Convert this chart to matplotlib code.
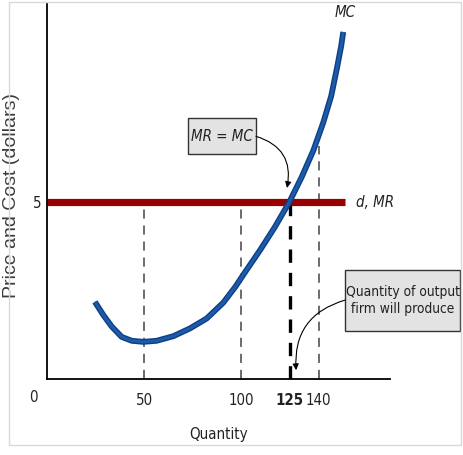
import matplotlib.pyplot as plt
from matplotlib.patches import Rectangle

# MC curve
mc_q = [24.7, 29.0, 33.4, 38.5, 43.7, 49.6, 56.5, 65.1, 73.7, 82.3, 90.9, 97.0, 102.1,
        109.8, 117.5, 124.9, 131.3, 137.3, 142.4, 146.5, 149.5, 151.6, 152.7]
mc_cost = [2.18, 1.81, 1.48, 1.19, 1.08, 1.05, 1.08, 1.21, 1.43, 1.71, 2.16, 2.60, 3.02,
           3.64, 4.30, 5.00, 5.71, 6.46, 7.25, 8.00, 8.80, 9.40, 9.81]

price = 5
mr_q = [0, 153.6]
guide_q = [50, 100, 140]
guide_top = [5, 5, 6.6]
chosen_q = 125
tick_q = [50, 100, 125, 140]
tick_labels = ['50', '100', '125', '140']

narrow = dict(family='DejaVu Sans', stretch='condensed')
fs = 10.8

fig = plt.figure(figsize=(4.64, 4.55), dpi=100)
fig.patches.append(Rectangle((9 / 464, 10 / 455), 452 / 464, 443 / 455, transform=fig.transFigure,
                             fill=False, edgecolor='#d9d9d9', linewidth=1))
ax = fig.add_axes([47 / 464, 76 / 455, 343 / 464, 375 / 455])
ax.set_xlim(0, 176.8)
ax.set_ylim(0, 10.6)

# dashed guides
for q, top in zip(guide_q, guide_top):
    ax.plot([q, q], [0, top], color='#444444', lw=1.1, dashes=(6, 4.5))
ax.plot([chosen_q, chosen_q], [0, price], color='black', lw=2.4, dashes=(4, 3))

# d, MR line
ax.plot(mr_q, [price, price], color='#990000', lw=5.2, solid_capstyle='butt')
# MC curve
ax.plot(mc_q, mc_cost, color='#0d3f86', lw=4.2, solid_capstyle='butt', solid_joinstyle='round')
ax.plot(mc_q, mc_cost, color='#1d5aa8', lw=2.2, solid_capstyle='butt', solid_joinstyle='round')

for s in ['top', 'right']:
    ax.spines[s].set_visible(False)
for s in ['left', 'bottom']:
    ax.spines[s].set_linewidth(1.3)
ax.tick_params(length=0, pad=10)
ax.set_xticks(tick_q)
ax.set_xticklabels(tick_labels, fontsize=fs, color='#222222', **narrow)
ax.get_xticklabels()[2].set_fontweight('bold')
ax.set_yticks([price])
ax.set_yticklabels(['5'], fontsize=fs, color='#222222', **narrow)
ax.tick_params(axis='y', pad=4)
ax.text(-7, -0.53, '0', fontsize=fs, color='#222222', ha='center', va='center', **narrow)

ax.set_xlabel('Quantity', fontsize=fs, color='#222222', **narrow)
ax.set_ylabel('Price and Cost (dollars)', fontsize=14, color='#3a3a3a',
              family=['Liberation Sans', 'DejaVu Sans'])
ax.xaxis.set_label_coords(0.5, -0.128)
ax.yaxis.set_label_coords(-0.08, 0.49)

ax.text(153.5, 10.35, 'MC', style='italic', fontsize=fs, ha='center', va='center',
        color='#222222', clip_on=False, **narrow)
ax.text(159.5, 5.0, 'd, MR', style='italic', fontsize=fs, ha='left', va='center',
        color='#222222', clip_on=False, **narrow)

# MR = MC box
ax.add_patch(Rectangle((72.7, 6.36), 35.0, 1.01, facecolor='#e3e3e3', edgecolor='#333333', lw=1, clip_on=False))
ax.text(90.2, 6.86, 'MR = MC', style='italic', fontsize=fs, ha='center', va='center',
        color='#222222', **narrow)
ax.annotate('', xy=(123.7, 5.4), xytext=(107.7, 6.86),
            arrowprops=dict(arrowstyle='-|>', color='black', lw=0.8, mutation_scale=9,
                            connectionstyle='arc3,rad=-0.45', shrinkA=0, shrinkB=0))

# Quantity box
ax.add_patch(Rectangle((153.6, 1.36), 59.3, 1.72, facecolor='#e3e3e3', edgecolor='#333333', lw=1, clip_on=False))
ax.text(183.3, 2.22, 'Quantity of output\nfirm will produce', fontsize=9.9,
        ha='center', va='center', color='#222222', linespacing=1.3, clip_on=False, **narrow)
ax.annotate('', xy=(128.4, 0.25), xytext=(153.6, 2.23),
            arrowprops=dict(arrowstyle='-|>', color='black', lw=0.8, mutation_scale=9,
                            connectionstyle='arc3,rad=0.4', shrinkA=0, shrinkB=0))

fig.savefig('out.png', dpi=100)
